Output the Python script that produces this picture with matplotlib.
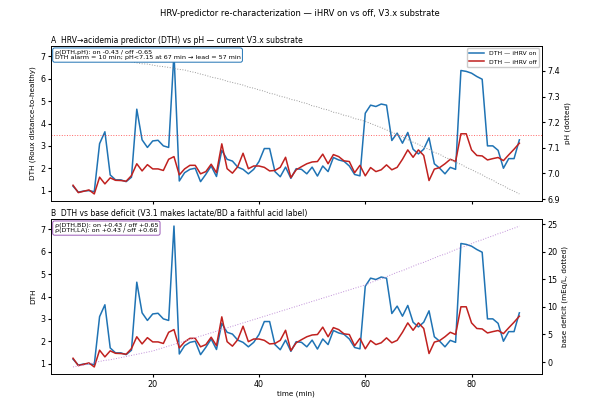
#======================================================================
# PURPOSE : HRV-predictor re-characterization (iHRV on vs off)
#======================================================================
import numpy as np
import matplotlib
matplotlib.use("Agg")
import matplotlib.pyplot as plt

#--------------------------------------------------------------------------
#                    Data
#--------------------------------------------------------------------------
t_min = list(range(5, 90))

dth_on = [1.20, 0.93, 0.98, 1.00, 0.95, 3.10, 3.63, 1.70, 1.48, 1.48,
          1.40, 1.60, 4.64, 3.27, 2.93, 3.22, 3.25, 3.00, 2.93, 7.15,
          1.43, 1.80, 1.95, 2.00, 1.40, 1.73, 2.10, 1.63, 2.80, 2.40,
          2.32, 2.05, 1.95, 1.75, 1.95, 2.30, 2.88, 2.88, 1.85, 1.62,
          2.05, 1.55, 1.98, 1.95, 1.75, 2.05, 1.65, 2.10, 1.85, 2.48,
          2.37, 2.31, 2.10, 1.72, 1.66, 4.46, 4.82, 4.76, 4.87, 4.82,
          3.24, 3.57, 3.12, 3.60, 2.85, 2.64, 2.85, 3.36, 2.20, 2.00,
          1.75, 2.04, 1.95, 6.37, 6.33, 6.25, 6.10, 5.98, 3.00, 3.00,
          2.80, 2.00, 2.43, 2.43, 3.27]

dth_off = [1.24, 0.91, 0.97, 1.03, 0.85, 1.60, 1.30, 1.57, 1.46, 1.45,
           1.42, 1.67, 2.20, 1.88, 2.16, 1.97, 1.97, 1.90, 2.40, 2.52,
           1.70, 1.97, 2.13, 2.13, 1.75, 1.85, 2.18, 1.80, 3.09, 1.98,
           1.78, 2.07, 2.67, 1.98, 2.10, 2.10, 2.04, 1.88, 1.90, 2.04,
           2.49, 1.58, 1.93, 2.07, 2.20, 2.28, 2.30, 2.63, 2.20, 2.61,
           2.52, 2.33, 2.30, 1.80, 2.13, 1.66, 2.03, 1.85, 1.93, 2.15,
           1.93, 2.04, 2.40, 2.82, 2.49, 2.82, 2.57, 1.45, 1.96, 2.03,
           2.20, 2.40, 2.30, 3.54, 3.54, 2.82, 2.57, 2.55, 2.37, 2.43,
           2.48, 2.34, 2.60, 2.85, 3.12]

ph = [7.470, 7.468, 7.463, 7.461, 7.458, 7.454, 7.450, 7.449, 7.445, 7.441,
      7.439, 7.436, 7.432, 7.428, 7.427, 7.423, 7.419, 7.417, 7.414, 7.410,
      7.406, 7.404, 7.398, 7.394, 7.388, 7.383, 7.376, 7.372, 7.367, 7.360,
      7.355, 7.350, 7.345, 7.337, 7.333, 7.326, 7.321, 7.313, 7.309, 7.301,
      7.297, 7.289, 7.285, 7.278, 7.273, 7.264, 7.260, 7.252, 7.248, 7.239,
      7.235, 7.227, 7.223, 7.214, 7.210, 7.203, 7.195, 7.187, 7.179, 7.170,
      7.161, 7.152, 7.142, 7.132, 7.122, 7.114, 7.102, 7.094, 7.082, 7.075,
      7.063, 7.055, 7.043, 7.036, 7.024, 7.015, 7.004, 6.995, 6.982, 6.974,
      6.961, 6.952, 6.940, 6.931, 6.920]

base_deficit = [-0.9, -0.7, -0.6, -0.3, -0.1, 0.1, 0.3, 0.4, 0.6, 0.8,
                1.0, 1.2, 1.4, 1.6, 1.8, 2.0, 2.3, 2.6, 2.9, 3.2,
                3.5, 3.8, 4.1, 4.4, 4.7, 5.0, 5.3, 5.6, 5.9, 6.2,
                6.5, 6.8, 7.1, 7.4, 7.7, 8.0, 8.3, 8.6, 8.9, 9.2,
                9.5, 9.8, 10.1, 10.4, 10.7, 11.0, 11.3, 11.6, 11.9, 12.2,
                12.5, 12.8, 13.1, 13.4, 13.7, 14.0, 14.4, 14.8, 15.1, 15.5,
                15.9, 16.3, 16.6, 17.0, 17.4, 17.8, 18.1, 18.5, 18.9, 19.3,
                19.6, 20.0, 20.4, 20.8, 21.1, 21.5, 21.9, 22.2, 22.6, 22.9,
                23.3, 23.6, 24.0, 24.3, 24.7]

ph_threshold = 7.15
box_a = "ρ(DTH,pH): on -0.43 / off -0.65\nDTH alarm = 10 min; pH<7.15 at 67 min → lead = 57 min"
box_b = "ρ(DTH,BD): on +0.43 / off +0.65\nρ(DTH,LA): on +0.43 / off +0.66"

c_on = "#1f73b4"
c_off = "#c0211f"

plt.rcParams['font.family'] = ['DejaVu Sans']
plt.rcParams['font.size'] = 5.8
plt.rcParams['xtick.major.size'] = 2
plt.rcParams['ytick.major.size'] = 2
plt.rcParams['xtick.major.pad'] = 2
plt.rcParams['ytick.major.pad'] = 2
plt.rcParams['axes.linewidth'] = 0.6

#--------------------------------------------------------------------------
#               Figure / axes layout
#--------------------------------------------------------------------------
fig = plt.figure(figsize=(6, 4), dpi=100)
ax_a = fig.add_axes([0.0845, 0.4975, 0.8183, 0.3875])
ax_b = fig.add_axes([0.0845, 0.065, 0.8183, 0.3875], sharex=ax_a)
fig.suptitle("HRV-predictor re-characterization — iHRV on vs off, V3.x substrate",
             fontsize=6, y=0.978)

#--------------------------------------------------------------------------
#               Panel A : DTH vs pH
#--------------------------------------------------------------------------
l_on, = ax_a.plot(t_min, dth_on, color=c_on, lw=1.1, label="DTH — iHRV on")
l_off, = ax_a.plot(t_min, dth_off, color=c_off, lw=1.1, label="DTH — iHRV off")
ax_a.set_ylabel("DTH (Roux distance-to-healthy)", fontsize=5.2, labelpad=3)
ax_a.set_title("A  HRV→acidemia predictor (DTH) vs pH — current V3.x substrate",
               loc="left", fontsize=5.5, pad=2.5)
ax_a.tick_params(labelbottom=False, labelsize=5.8)

ax_a2 = ax_a.twinx()
ax_a2.plot(t_min, ph, color="#9a9a9a", lw=0.7, ls=":")
ax_a2.axhline(ph_threshold, color="red", alpha=0.6, lw=0.7, ls=":")
ax_a2.set_ylabel("pH (dotted)", fontsize=5.2, labelpad=3)
ax_a2.tick_params(labelsize=5.8)
ax_a2.legend(handles=[l_on, l_off], loc="upper right", fontsize=4.4,
             handlelength=2.4, framealpha=1.0, borderaxespad=0.4)
ax_a2.text(0.008, 0.975, box_a, transform=ax_a2.transAxes, fontsize=4.6,
           va="top", ha="left", linespacing=1.1,
           bbox=dict(boxstyle="round,pad=0.3", fc="white", ec=c_on, lw=0.7))

#--------------------------------------------------------------------------
#               Panel B : DTH vs base deficit
#--------------------------------------------------------------------------
ax_b.plot(t_min, dth_on, color=c_on, lw=1.1)
ax_b.plot(t_min, dth_off, color=c_off, lw=1.1)
ax_b.set_ylabel("DTH", fontsize=5.2, labelpad=3)
ax_b.set_xlabel("time (min)", fontsize=5.2, labelpad=1.5)
ax_b.set_title("B  DTH vs base deficit (V3.1 makes lactate/BD a faithful acid label)",
               loc="left", fontsize=5.5, pad=2.5)
ax_b.tick_params(labelsize=5.8)

ax_b2 = ax_b.twinx()
ax_b2.plot(t_min, base_deficit, color="#c090d8", lw=0.7, ls=":")
ax_b2.set_ylabel("base deficit (mEq/L, dotted)", fontsize=5.2, labelpad=3)
ax_b2.tick_params(labelsize=5.8)
ax_b2.text(0.008, 0.975, box_b, transform=ax_b2.transAxes, fontsize=4.6,
           va="top", ha="left", linespacing=1.1,
           bbox=dict(boxstyle="round,pad=0.3", fc="white", ec="#9b59b6", lw=0.7))

ax_a.set_xticks([20, 40, 60, 80])

fig.savefig("out.png", dpi=100)
print("Completed Successfully ... ")
